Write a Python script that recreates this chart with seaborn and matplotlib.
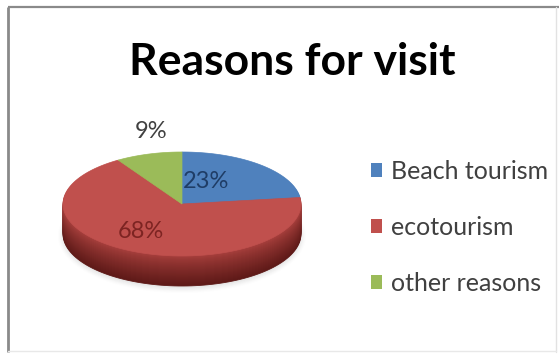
import numpy as np
import matplotlib
matplotlib.use("Agg")
import matplotlib.pyplot as plt
from matplotlib.patches import Patch, Polygon
from matplotlib.colors import to_rgb
import seaborn as sns

# ---- data ----
categories = ["Beach tourism", "ecotourism", "other reasons"]
shares = [23, 68, 9]
pct_labels = ["23%", "68%", "9%"]
title = "Reasons for visit"

sns.set_theme(style="white")
plt.rcParams["font.family"] = ["Lato", "DejaVu Sans"]

colors = sns.color_palette(["#4F81BD", "#C0504D", "#9BBB59"])

W, H = 559, 354
fig = plt.figure(figsize=(W / 100, H / 100), dpi=100)
ax = fig.add_axes([0, 0, 1, 1])
ax.set_xlim(0, W)
ax.set_ylim(H, 0)
ax.axis("off")

# frame
ax.plot([8, 8], [352, 7], color="#8a8a8a", lw=2, solid_capstyle="butt")
ax.plot([8, 559], [7, 7], color="#8a8a8a", lw=1.6, solid_capstyle="butt")
ax.plot([556, 556], [7, 352], color="#e2e2e2", lw=1)
ax.plot([8, 556], [351, 351], color="#e8e8e8", lw=1)

# pie geometry (pixel space)
cx, cy, rx, ry, depth = 182, 204, 119, 52, 30

def wedge_pts(a0, a1, dy=0.0, n=120):
    th = np.radians(np.linspace(a0, a1, n))
    xs = np.concatenate([[cx], cx + rx * np.cos(th), [cx]])
    ys = np.concatenate([[cy], cy - ry * np.sin(th), [cy]]) + dy
    return np.column_stack([xs, ys])

total = float(sum(shares))
angles = []
a = 90.0
for s in shares:
    span = 360.0 * s / total
    angles.append((a, a - span))
    a -= span

def mix(c1, c2, t):
    c1, c2 = np.array(to_rgb(c1)), np.array(to_rgb(c2))
    return tuple(c1 * (1 - t) + c2 * t)

# soft shadow
th = np.radians(np.linspace(0, 360, 200))
for k, al in zip(range(6), np.linspace(0.05, 0.02, 6)):
    ax.fill(cx + (rx + k) * np.cos(th), cy + depth + 2 - (ry + k) * np.sin(th),
            color="#999999", alpha=al, lw=0, zorder=1)

# side layers (extrusion)
side_top = {0: "#3a6496", 1: "#a8403d", 2: "#7f9a45"}
side_bot = {0: "#244570", 1: "#5e1a18", 2: "#5a7030"}
for k in range(depth, 0, -1):
    t = k / depth
    for i, (a0, a1) in enumerate(angles):
        c = mix(side_top[i], side_bot[i], t ** 0.8)
        ax.add_patch(Polygon(wedge_pts(a0, a1, dy=k), closed=True,
                             facecolor=c, edgecolor=c, lw=0.6, zorder=2))

# top faces
for i, (a0, a1) in enumerate(angles):
    ax.add_patch(Polygon(wedge_pts(a0, a1), closed=True,
                         facecolor=colors[i], edgecolor=colors[i], lw=0.5, zorder=3))

# percentage labels
ax.text(206, 182, pct_labels[0], color="#1f3d66", fontsize=17,
        ha="center", va="center", zorder=4)
ax.text(141, 232, pct_labels[1], color="#7d2422", fontsize=17,
        ha="center", va="center", zorder=4)
ax.text(151, 131, pct_labels[2], color="#404040", fontsize=17,
        ha="center", va="center", zorder=4)

# title
ax.text(292, 62, title, fontsize=32, fontweight="bold", color="black",
        ha="center", va="center")

# legend
handles = [Patch(facecolor=colors[i], edgecolor="none", label=categories[i])
           for i in range(len(categories))]
leg = ax.legend(handles=handles, loc="upper left",
                bbox_to_anchor=(361 / W, 1 - 150 / H), frameon=False,
                fontsize=18, handlelength=0.45, handleheight=0.45,
                handletextpad=0.35, labelspacing=1.32, borderaxespad=0)
for t in leg.get_texts():
    t.set_color("#404040")

fig.savefig("out.png", dpi=100)
